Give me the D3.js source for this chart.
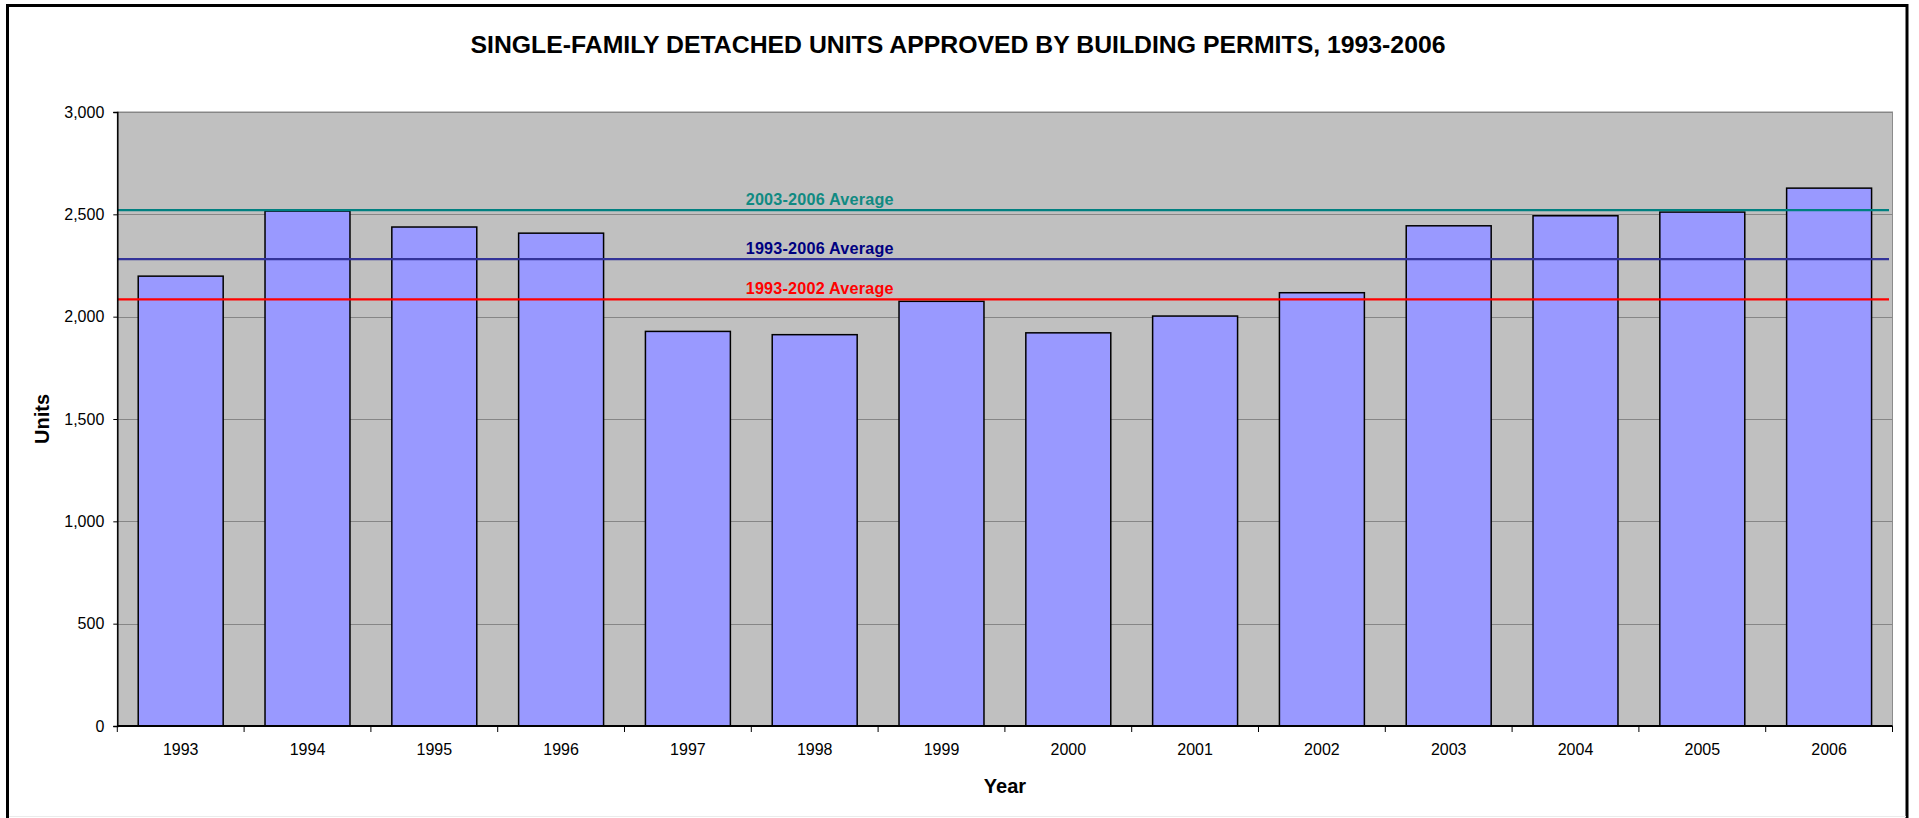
<!DOCTYPE html>
<html>
<head>
<meta charset="utf-8">
<script src="https://cdn.jsdelivr.net/npm/d3@7"></script>
<style>
  body { margin: 0; background: #fff; }
  svg { display: block; font-family: Arial, "Liberation Sans", sans-serif; }
</style>
</head>
<body>
<svg id="chart"></svg>
<script>
// values
const years = ['1993', '1994', '1995', '1996', '1997', '1998', '1999', '2000', '2001', '2002', '2003', '2004', '2005', '2006'];
const units = [2198, 2516, 2438, 2408, 1928, 1912, 2075, 1921, 2003, 2117, 2444, 2493, 2511, 2628];

const avgLabels = ['2003-2006 Average', '1993-2006 Average', '1993-2002 Average'];
const avgValues = [2521, 2281, 2084];

const yTicks = [0, 500, 1000, 1500, 2000, 2500, 3000];

const titleText = 'SINGLE-FAMILY DETACHED UNITS APPROVED BY BUILDING PERMITS, 1993-2006';

// styles
const lineColors = ['#008080', '#333399', '#ff0000'];
const labelColors = ['#108a82', '#000080', '#ff0000'];

const width = 1919, height = 818;
const margin = {top: 112, right: 26.5, bottom: 92, left: 117.3};
const innerW = width - margin.left - margin.right;
const innerH = height - margin.top - margin.bottom;

const svg = d3.select('#chart')
    .attr('width', width)
    .attr('height', height);

// outer chart frame
svg.append('rect')
    .attr('x', 7.5).attr('y', 5.5)
    .attr('width', 1899.5).attr('height', 840)
    .attr('fill', '#fff')
    .attr('stroke', '#000')
    .attr('stroke-width', 3);
svg.append('line')
    .attr('x1', 9).attr('x2', 1906)
    .attr('y1', 816.5).attr('y2', 816.5)
    .attr('stroke', '#ebebeb');

// title
svg.append('text')
    .attr('x', 958).attr('y', 53)
    .attr('text-anchor', 'middle')
    .attr('font-size', 24.8)
    .attr('font-weight', 'bold')
    .attr('fill', '#000')
    .text(titleText);

const g = svg.append('g')
    .attr('transform', 'translate(' + margin.left + ',' + margin.top + ')');

const x = d3.scaleBand()
    .domain(years)
    .range([0, innerW])
    .paddingInner(0.33)
    .paddingOuter(0.165);

const xEdges = d3.scaleBand().domain(years).range([0, innerW]);

const y = d3.scaleLinear()
    .domain([0, 3000])
    .range([innerH, 0]);

// plot background
g.append('rect')
    .attr('width', innerW)
    .attr('height', innerH)
    .attr('fill', '#c0c0c0')
    .attr('stroke', '#8c8c8c')
    .attr('stroke-width', 1);

// gridlines
g.append('g')
    .selectAll('line')
    .data(yTicks.filter(d => d > 0))
    .join('line')
    .attr('x1', 0).attr('x2', innerW)
    .attr('y1', d => Math.round(y(d)) + 0.5)
    .attr('y2', d => Math.round(y(d)) + 0.5)
    .attr('stroke', '#868686')
    .attr('stroke-width', 1);

// bars
g.append('g')
    .selectAll('rect')
    .data(units)
    .join('rect')
    .attr('x', (d, i) => x(years[i]))
    .attr('y', d => y(d))
    .attr('width', x.bandwidth())
    .attr('height', d => innerH - y(d))
    .attr('fill', '#9999ff')
    .attr('stroke', '#000')
    .attr('stroke-width', 1.5);

// average lines
const avg = g.append('g');
avg.selectAll('line')
    .data(avgValues)
    .join('line')
    .attr('x1', 0).attr('x2', innerW - 3.5)
    .attr('y1', d => y(d))
    .attr('y2', d => y(d))
    .attr('stroke', (d, i) => lineColors[i])
    .attr('stroke-width', 2.2);

avg.selectAll('text')
    .data(avgValues)
    .join('text')
    .attr('x', x('1998') + x.bandwidth() / 2 + 5)
    .attr('y', d => y(d) - 5.5)
    .attr('text-anchor', 'middle')
    .attr('font-size', 16.2)
    .attr('letter-spacing', 0.2)
    .attr('font-weight', 'bold')
    .attr('fill', (d, i) => labelColors[i])
    .text((d, i) => avgLabels[i]);

// y axis
const yAxis = g.append('g')
    .call(d3.axisLeft(y)
        .tickValues(yTicks)
        .tickSize(4)
        .tickPadding(9)
        .tickFormat(d3.format(',')));
yAxis.select('.domain').attr('stroke', '#000').attr('stroke-width', 1.5);
yAxis.selectAll('.tick line').attr('stroke', '#000');
yAxis.selectAll('.tick text')
    .attr('font-size', 16)
    .attr('font-family', 'Arial, "Liberation Sans", sans-serif')
    .attr('fill', '#000');

// x axis: ticks sit on category boundaries
const xAxis = g.append('g')
    .attr('transform', 'translate(0,' + innerH + ')');
xAxis.append('line')
    .attr('x1', 0).attr('x2', innerW)
    .attr('stroke', '#000')
    .attr('stroke-width', 2);
xAxis.selectAll('.edge')
    .data(years.concat(['end']))
    .join('line')
    .attr('class', 'edge')
    .attr('x1', (d, i) => i < years.length ? xEdges(d) : innerW)
    .attr('x2', (d, i) => i < years.length ? xEdges(d) : innerW)
    .attr('y1', 0).attr('y2', 6)
    .attr('stroke', '#000');
xAxis.selectAll('text')
    .data(years)
    .join('text')
    .attr('x', d => xEdges(d) + xEdges.bandwidth() / 2)
    .attr('y', 29)
    .attr('text-anchor', 'middle')
    .attr('font-size', 16)
    .attr('fill', '#000')
    .text(d => d);

// axis titles
svg.append('text')
    .attr('x', margin.left + innerW / 2)
    .attr('y', 793)
    .attr('text-anchor', 'middle')
    .attr('font-size', 20)
    .attr('font-weight', 'bold')
    .text('Year');

svg.append('text')
    .attr('transform', 'translate(49,' + (margin.top + innerH / 2) + ') rotate(-90)')
    .attr('text-anchor', 'middle')
    .attr('font-size', 20)
    .attr('font-weight', 'bold')
    .text('Units');
</script>
</body>
</html>
